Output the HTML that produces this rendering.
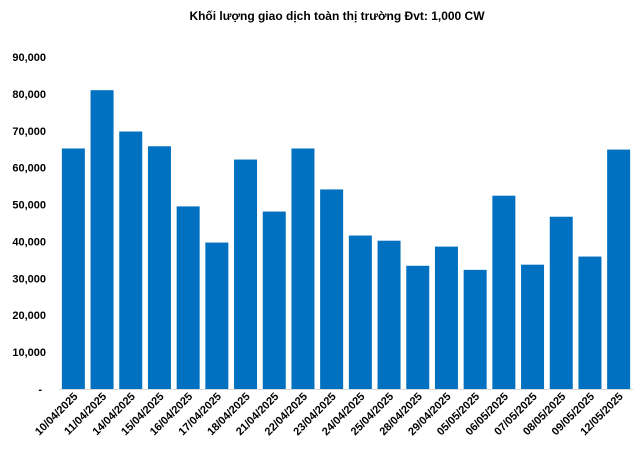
<!DOCTYPE html>
<html><head><meta charset="utf-8"><style>
body{margin:0;background:#fff;}
svg{display:block;font-family:"Liberation Sans",Arial,sans-serif;}
</style></head><body>
<svg id="chart" width="640" height="453">
<text x="337" y="20" text-anchor="middle" font-size="12" font-weight="bold" fill="#000">Khối lượng giao dịch toàn thị trường Đvt: 1,000 CW</text>
<g id="yaxis"></g><g id="bars"></g><g id="xaxis"></g>
</svg>
<script>
const categories=["10/04/2025","11/04/2025","14/04/2025","15/04/2025","16/04/2025","17/04/2025","18/04/2025","21/04/2025","22/04/2025","23/04/2025","24/04/2025","25/04/2025","28/04/2025","29/04/2025","05/05/2025","06/05/2025","07/05/2025","08/05/2025","09/05/2025","12/05/2025"];
const values=[65200,81000,69800,65800,49500,39700,62200,48100,65200,54100,41600,40200,33400,38600,32300,52400,33700,46700,35900,64900];
const yTicks=[0,10000,20000,30000,40000,50000,60000,70000,80000,90000];
const yTickLabels=["-","10,000","20,000","30,000","40,000","50,000","60,000","70,000","80,000","90,000"];
const NS="http://www.w3.org/2000/svg";
const x0=59,x1=633,y0=389,yTop=57,yMax=90000;
const band=(x1-x0)/categories.length,bw=23;
function y(v){return y0-(v/yMax)*(y0-yTop);}
function xc(i){return x0+band*(i+0.5);}
const ya=document.getElementById('yaxis'),bg=document.getElementById('bars'),xa=document.getElementById('xaxis');
yTicks.forEach((t,i)=>{
 const tx=document.createElementNS(NS,'text');
 
 
 tx.setAttribute('x',i===0?42:46);tx.setAttribute('y',y(t)+4);
 tx.setAttribute('text-anchor','end');tx.setAttribute('font-size','11');tx.setAttribute('font-weight','bold');
 tx.textContent=yTickLabels[i];ya.appendChild(tx);
});
values.forEach((v,i)=>{
 const r=document.createElementNS(NS,'rect');
 
 
 r.setAttribute('x',xc(i)-bw/2);r.setAttribute('y',y(v));r.setAttribute('width',bw);r.setAttribute('height',y0-y(v));
 r.setAttribute('fill','#0070c0');bg.appendChild(r);
});
const ax=document.createElementNS(NS,'line');


ax.setAttribute('x1',x0);ax.setAttribute('x2',x1);ax.setAttribute('y1',y0+0.5);ax.setAttribute('y2',y0+0.5);ax.setAttribute('stroke','#d9d9d9');
xa.appendChild(ax);
categories.forEach((c,i)=>{
 const tx=document.createElementNS(NS,'text');
 
 
 const px=xc(i)+5,py=y0+8;
 tx.setAttribute('x',px);tx.setAttribute('y',py);tx.setAttribute('text-anchor','end');
 tx.setAttribute('font-size','11');tx.setAttribute('font-weight','bold');
 tx.setAttribute('transform','rotate(-45 '+px+' '+py+')');
 tx.textContent=c;xa.appendChild(tx);
});
</script>
</body></html>
